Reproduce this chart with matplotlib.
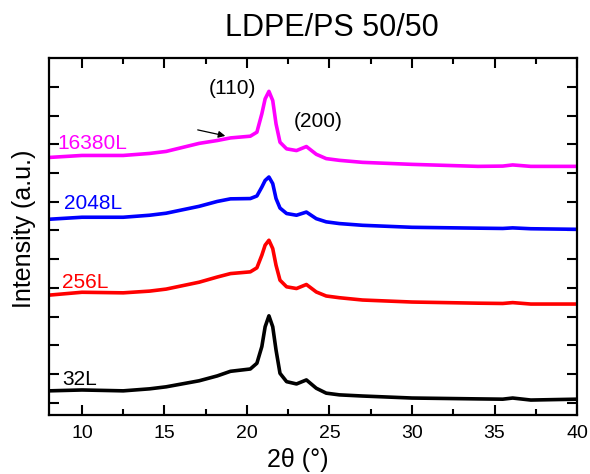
import matplotlib
matplotlib.use("Agg")
import matplotlib.pyplot as plt
from matplotlib.ticker import MultipleLocator

plt.rcParams['font.family'] = ['Liberation Sans', 'DejaVu Sans']

# 2theta positions
two_theta = [8, 10, 12.5, 14.1, 15.1, 17.1, 18.2, 19.0, 20.2, 20.6, 20.9, 21.1, 21.33, 21.56,
             21.76, 22.0, 22.4, 23.0, 23.6, 24.2, 24.8, 25.6, 27, 30, 34, 35.5, 36.1, 37.2, 40]

# stacked intensity curves (arbitrary units, offset)
i_32 = [0.42, 0.45, 0.42, 0.49, 0.56, 0.77, 0.94, 1.10, 1.18, 1.38, 1.96, 2.65, 3.03, 2.65,
        1.84, 1.03, 0.74, 0.66, 0.80, 0.51, 0.34, 0.28, 0.24, 0.17, 0.14, 0.13, 0.17, 0.10, 0.13]
i_256 = [3.75, 3.85, 3.83, 3.89, 3.96, 4.20, 4.38, 4.50, 4.56, 4.70, 5.14, 5.49, 5.66, 5.37,
         4.79, 4.27, 4.04, 3.98, 4.12, 3.86, 3.72, 3.66, 3.58, 3.51, 3.47, 3.46, 3.49, 3.44, 3.44]
i_2048 = [6.39, 6.46, 6.46, 6.53, 6.60, 6.84, 7.01, 7.10, 7.11, 7.20, 7.51, 7.74, 7.86, 7.63,
          7.11, 6.78, 6.59, 6.53, 6.64, 6.41, 6.30, 6.24, 6.18, 6.11, 6.08, 6.07, 6.09, 6.06, 6.04]
i_16380 = [8.54, 8.61, 8.61, 8.68, 8.75, 9.03, 9.13, 9.22, 9.28, 9.42, 10.06, 10.58, 10.84, 10.52,
           9.71, 9.07, 8.84, 8.78, 8.92, 8.65, 8.50, 8.44, 8.37, 8.30, 8.23, 8.24, 8.28, 8.23, 8.23]

series = [('32L', i_32, 'black'), ('256L', i_256, '#ff0000'),
          ('2048L', i_2048, '#0000ff'), ('16380L', i_16380, '#ff00ff')]

fig = plt.figure(figsize=(5.9, 4.74), dpi=100)
ax = fig.add_axes([0.083, 0.1245, 0.895, 0.7531])

for name, vals, col in series:
    ax.plot(two_theta, vals, color=col, lw=2.6, solid_joinstyle='round', solid_capstyle='round')

ax.set_xlim(8, 40)
ax.set_ylim(-0.42, 12.0)

# curve labels
ax.text(8.48, 9.03, '16380L', color='#ff00ff', fontsize=15, va='center')
ax.text(8.9, 6.94, '2048L', color='#0000ff', fontsize=15, va='center')
ax.text(8.8, 4.2, '256L', color='#ff0000', fontsize=15, va='center')
ax.text(8.8, 0.8, '32L', color='black', fontsize=15, va='center')

# peak labels
ax.text(19.09, 10.94, '(110)', fontsize=15, ha='center', va='center')
ax.text(24.3, 9.79, '(200)', fontsize=15, ha='center', va='center')
ax.annotate('', xy=(18.85, 9.27), xytext=(16.85, 9.52),
            arrowprops=dict(arrowstyle='-|>', color='black', lw=0.9, mutation_scale=10))

ax.xaxis.set_major_locator(MultipleLocator(5))
ax.xaxis.set_minor_locator(MultipleLocator(2.5))
ax.set_yticks(range(0, 12))
ax.set_yticklabels([])
ax.tick_params(which='both', direction='in', top=True, right=True, width=1.5)
ax.tick_params(which='major', length=7, labelsize=14, pad=7)
ax.tick_params(which='minor', length=4)
ax.tick_params(axis='y', length=7)
for sp in ax.spines.values():
    sp.set_linewidth(1.6)

fig.text(0.562, 0.941, 'LDPE/PS 50/50', fontsize=22, ha='center', va='center')
fig.text(0.505, 0.015, '2θ (°)', fontsize=18, ha='center', va='baseline')
fig.text(0.041, 0.517, 'Intensity (a.u.)', fontsize=18, rotation=90, ha='center', va='center')

fig.savefig('out.png', dpi=100)
